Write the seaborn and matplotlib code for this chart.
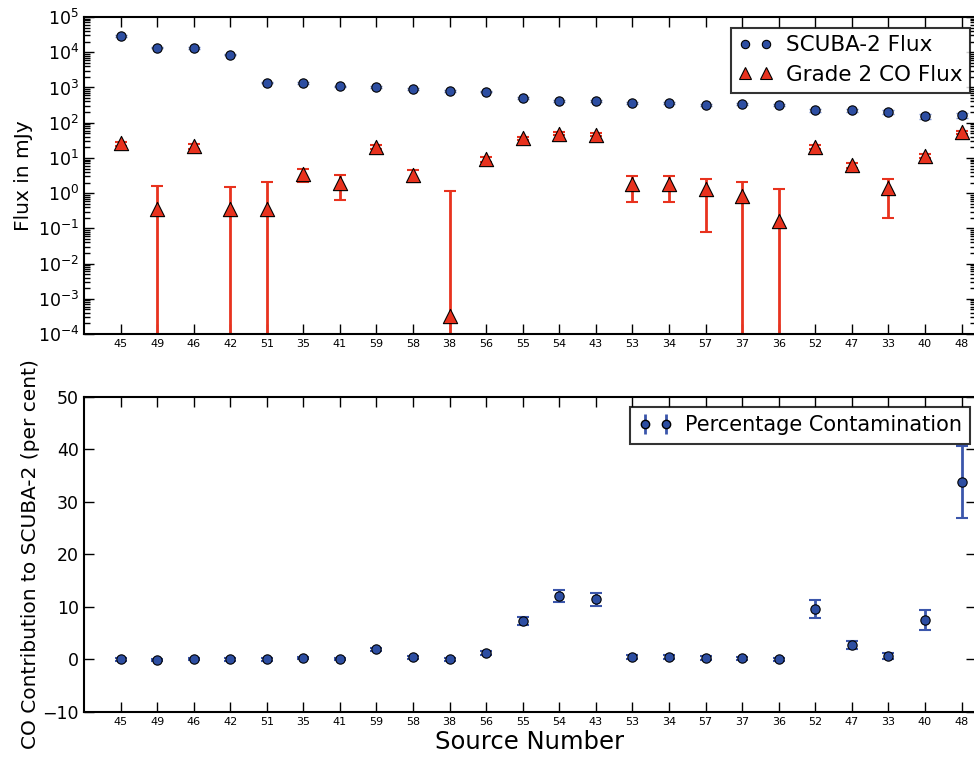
import numpy as np
import matplotlib
matplotlib.use("Agg")
import matplotlib.pyplot as plt
from matplotlib.lines import Line2D
import seaborn as sns

sources = ["45", "49", "46", "42", "51", "35", "41", "59", "58", "38", "56", "55",
           "54", "43", "53", "34", "57", "37", "36", "52", "47", "33", "40", "48"]

scuba_flux = [28800, 13600, 13100, 8600, 1370, 1340, 1080, 1050, 890, 795, 760, 492,
              420, 412, 369, 361, 323, 345, 323, 224, 224, 204, 154, 162]
scuba_err = [1500, 700, 700, 450, 70, 70, 55, 55, 45, 40, 40, 30,
             28, 28, 26, 26, 24, 25, 24, 22, 22, 22, 25, 25]

co_flux = [25.7, 0.36, 22.0, 0.36, 0.35, 3.4, 1.95, 20.6, 3.3, 0.00032, 9.4, 35.7,
           48.3, 45.2, 1.82, 1.82, 1.28, 0.85, 0.166, 20.6, 6.2, 1.40, 11.7, 53.0]
co_err = [3.5, 1.2, 3.5, 1.13, 1.78, 1.3, 1.3, 3.2, 1.2, 1.12, 1.5, 3.5,
          4.5, 4.5, 1.25, 1.25, 1.2, 1.18, 1.12, 3.0, 1.0, 1.2, 1.6, 6.0]

pct = [0.0, -0.05, 0.15, 0.0, 0.0, 0.2, 0.15, 1.9, 0.38, 0.0, 1.27, 7.27,
       12.05, 11.47, 0.45, 0.45, 0.32, 0.19, 0.0, 9.6, 2.74, 0.64, 7.58, 33.8]
pct_err = [0.2, 0.2, 0.2, 0.2, 0.2, 0.2, 0.2, 0.35, 0.25, 0.2, 0.35, 0.76,
           1.2, 1.24, 0.35, 0.35, 0.35, 0.35, 0.35, 1.72, 0.83, 0.57, 1.9, 6.9]

sns.set_style("ticks")
plt.rcParams["font.family"] = ["DejaVu Sans"]
for key in ["text.color", "axes.labelcolor", "xtick.color", "ytick.color"]:
    plt.rcParams[key] = "black"

blue = "#2d4ea2"
red = "#e8321e"
xpos = np.arange(1, len(sources) + 1)

fig = plt.figure(figsize=(9.74, 7.6), dpi=100)
ax1 = fig.add_axes([0.0862, 0.5605, 0.916, 0.4171])
ax2 = fig.add_axes([0.0862, 0.0632, 0.916, 0.4145])

# top panel: fluxes
ax1.set_yscale("log")
ax1.errorbar(xpos, scuba_flux, yerr=scuba_err, fmt="none", ecolor="#7d95d6",
             elinewidth=1, capsize=4.5, zorder=2)
ax1.errorbar(xpos, co_flux, yerr=co_err, fmt="none", ecolor=red,
             elinewidth=2, capsize=4.5, capthick=1.5, zorder=2)
sns.scatterplot(x=xpos, y=scuba_flux, ax=ax1, marker="o", s=45, color=blue,
                edgecolor="black", linewidth=0.8, zorder=3, legend=False)
sns.scatterplot(x=xpos, y=co_flux, ax=ax1, marker="^", s=105, color=red,
                edgecolor="black", linewidth=0.8, zorder=3, legend=False)
ax1.set_ylim(1e-4, 1e5)
ax1.set_yticks([10.0 ** k for k in range(-4, 6)])
ax1.set_ylabel("Flux in mJy", fontsize=14.5, labelpad=3)

h1 = Line2D([], [], ls="none", marker="o", ms=6, mfc=blue, mec="black", mew=0.8)
h2 = Line2D([], [], ls="none", marker="^", ms=9, mfc=red, mec="black", mew=0.8)
leg1 = ax1.legend([h1, h2], ["SCUBA-2 Flux", "Grade 2 CO Flux"], loc="upper right",
                  bbox_to_anchor=(0.993, 0.966), numpoints=2, fontsize=15.5,
                  frameon=True, fancybox=False, edgecolor="black",
                  handletextpad=0.6, borderpad=0.35, labelspacing=0.45,
                  handlelength=1.6, borderaxespad=0)
leg1.get_frame().set_linewidth(1.5)

# bottom panel: contamination
ax2.errorbar(xpos, pct, yerr=pct_err, fmt="none", ecolor="#3b56ab",
             elinewidth=2, capsize=4.5, capthick=1.5, zorder=2)
sns.scatterplot(x=xpos, y=pct, ax=ax2, marker="o", s=45, color=blue,
                edgecolor="black", linewidth=0.8, zorder=3, legend=False)
ax2.set_ylim(-10, 50)
ax2.set_yticks(range(-10, 51, 10))
ax2.set_ylabel("CO Contribution to SCUBA-2 (per cent)", fontsize=14.5, labelpad=2)
ax2.set_xlabel("Source Number", fontsize=17.5, labelpad=2)

h3 = ax2.errorbar([], [], yerr=[], fmt="o", color=blue, mec="black", ms=6,
                  ecolor="#3b56ab", elinewidth=2, capsize=4.5, capthick=1.5)
leg2 = ax2.legend([h3], ["Percentage Contamination"], loc="upper right",
                  bbox_to_anchor=(0.993, 0.968), numpoints=2, fontsize=15,
                  frameon=True, fancybox=False, edgecolor="black",
                  handletextpad=0.6, borderpad=0.4, handlelength=1.6,
                  borderaxespad=0)
leg2.get_frame().set_linewidth(1.5)

for ax in (ax1, ax2):
    ax.set_xlim(0, 24.4)
    ax.set_xticks(xpos)
    ax.set_xticklabels(sources, fontsize=8)
    ax.tick_params(axis="y", labelsize=12.5)
    ax.tick_params(which="both", top=True, right=True, direction="in")
    ax.tick_params(which="major", length=7, width=1)
    ax.tick_params(which="minor", length=4, width=1)
    for sp in ax.spines.values():
        sp.set_linewidth(1.5)
        sp.set_color("black")
ax1.tick_params(axis="x", which="minor", bottom=False, top=False)

fig.savefig("out.png", dpi=100, facecolor="white")
